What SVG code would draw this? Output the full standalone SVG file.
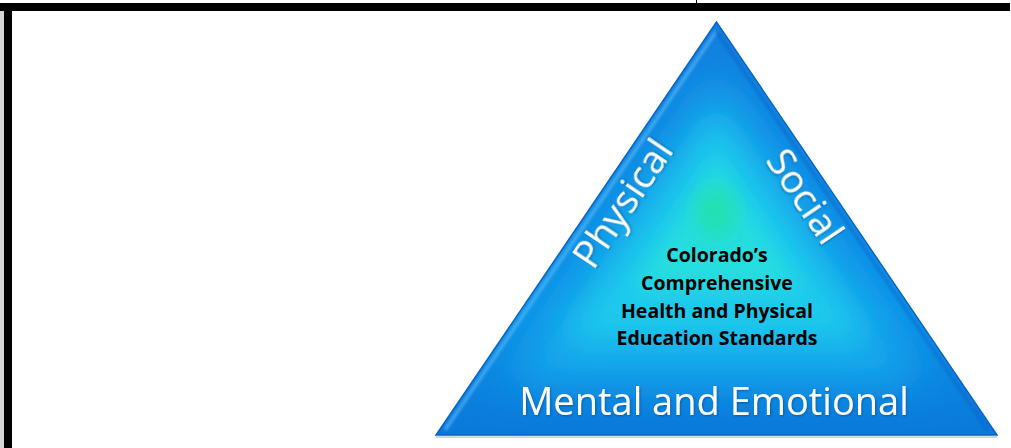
<svg xmlns="http://www.w3.org/2000/svg" width="1011" height="448" viewBox="0 0 1011 448">
  <style>
    .white { fill: #ffffff; font-family: "Open Sans", "Liberation Sans", sans-serif; font-weight: 400; }
    .center { fill: #000000; font-family: "Open Sans", "Liberation Sans", sans-serif; font-weight: 700; font-size: 19.5px; text-anchor: middle; }
  </style>
  <defs>
    <clipPath id="triClip">
      <polygon points="716.5,22 436,435 997,435"/>
    </clipPath>
    <filter id="blur20" x="-50%" y="-50%" width="200%" height="200%"><feGaussianBlur stdDeviation="22"/></filter>
    <filter id="blur12" x="-50%" y="-50%" width="200%" height="200%"><feGaussianBlur stdDeviation="16"/></filter>
    <filter id="blur8" x="-50%" y="-50%" width="200%" height="200%"><feGaussianBlur stdDeviation="10"/></filter>
    <filter id="blur2" x="-20%" y="-20%" width="140%" height="140%"><feGaussianBlur stdDeviation="1.5"/></filter>
    <filter id="tshadow" x="-10%" y="-10%" width="120%" height="130%">
      <feDropShadow dx="0.8" dy="1" stdDeviation="0.8" flood-color="#00306a" flood-opacity="0.5"/>
    </filter>
    <linearGradient id="baseGrad" x1="0" y1="0" x2="0" y2="1">
      <stop offset="0" stop-color="#127ede"/>
      <stop offset="0.7" stop-color="#0e92e8"/>
      <stop offset="1" stop-color="#0a78da"/>
    </linearGradient>
  </defs>

  <g id="frame">
    <rect x="0" y="3" width="1010" height="8" fill="#000000"/>
    <rect x="0" y="11" width="4" height="437" fill="#d6d6d6"/>
    <rect x="4" y="11" width="8" height="437" fill="#000000"/>
    <rect x="696" y="0" width="1" height="3" fill="#000000"/>
  </g>

  <g id="triangle">
    <line x1="436" y1="437" x2="997" y2="437" stroke="#c8ccd2" stroke-width="2" opacity="0.8"/>
    <polygon points="716.5,22 436,435 997,435" fill="url(#baseGrad)"/>
    <g clip-path="url(#triClip)">
      <polygon points="716.5,73.5 506,383 927,383" fill="#16aaec" filter="url(#blur20)"/>
      <polygon points="716.5,115 563,340 870,340" fill="#1ecaec" filter="url(#blur12)"/>
      <polygon points="716.5,160 632,290 801,290" fill="#26dde0" filter="url(#blur8)"/>
      <ellipse cx="716" cy="212" rx="20" ry="26" fill="#22e0b0" filter="url(#blur8)"/>
      <line x1="445" y1="430" x2="716.5" y2="31" stroke="#62bcf6" stroke-width="3" opacity="0.75" filter="url(#blur2)"/>
      <line x1="716.5" y1="31" x2="988" y2="430" stroke="#0a5cc0" stroke-width="3" opacity="0.55" filter="url(#blur2)"/>
      <line x1="445" y1="431" x2="988" y2="431" stroke="#0a5cc0" stroke-width="3" opacity="0.5" filter="url(#blur2)"/>
    </g>
    <polygon points="716.5,22 436,435 997,435" fill="none" stroke="#0b62c8" stroke-width="1.5"/>
  </g>

  <g id="label-physical">
    <text class="white" font-size="39" text-anchor="middle" transform="translate(634,211) rotate(-56)" filter="url(#tshadow)">Physical</text>
  </g>
  <g id="label-social">
    <text class="white" font-size="39" text-anchor="middle" transform="translate(794,204) rotate(56)" filter="url(#tshadow)">Social</text>
  </g>
  <g id="label-mental">
    <text class="white" font-size="38" x="714" y="415" text-anchor="middle" filter="url(#tshadow)">Mental and Emotional</text>
  </g>
  <g id="label-center">
    <text class="center" x="717" y="262">Colorado’s</text>
    <text class="center" x="717" y="290">Comprehensive</text>
    <text class="center" x="717" y="318">Health and Physical</text>
    <text class="center" x="717" y="345">Education Standards</text>
  </g>
  <g id="connectors"/>
</svg>
